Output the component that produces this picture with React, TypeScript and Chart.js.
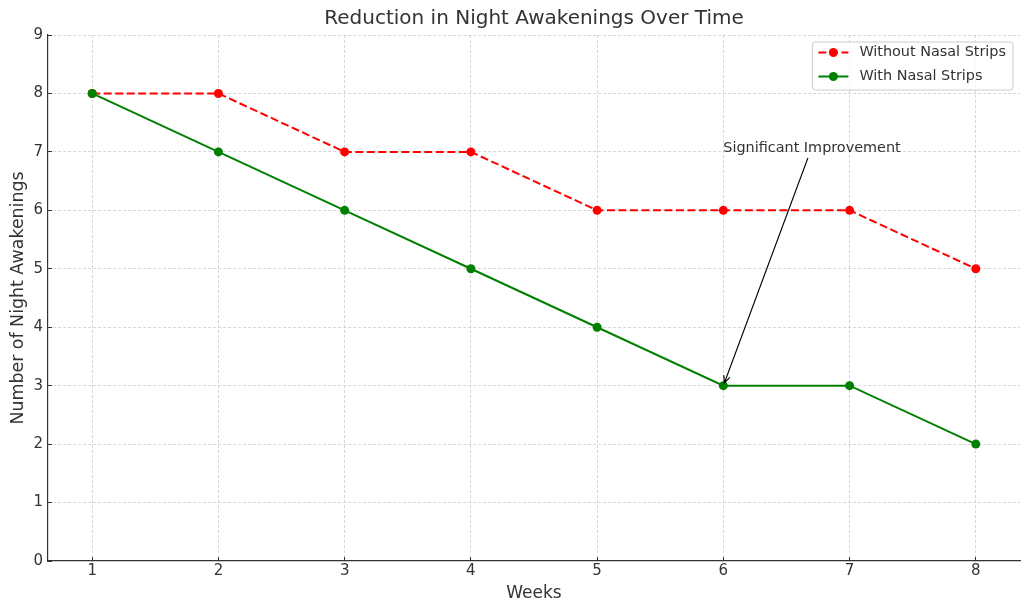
import React, { useEffect, useRef } from 'react';
import { Chart, registerables } from 'chart.js';

Chart.register(...registerables);

const weeks = [1, 2, 3, 4, 5, 6, 7, 8];
const withoutStrips = [8, 8, 7, 7, 6, 6, 6, 5];
const withStrips = [8, 7, 6, 5, 4, 3, 3, 2];
const chartTitle = 'Reduction in Night Awakenings Over Time';
const xTitle = 'Weeks';
const yTitle = 'Number of Night Awakenings';
const withoutLabel = 'Without Nasal Strips';
const withLabel = 'With Nasal Strips';
const annotationText = 'Significant Improvement';
const annotationPoint = { x: 6, y: 3 };
const annotationTextPos = { x: 6, y: 7 };

const FONT = "'DejaVu Sans', sans-serif";
const TEXT = '#333333';

const overlayPlugin = {
  id: 'overlay',
  afterDraw(chart: any) {
    const ctx = chart.ctx;
    const area = chart.chartArea;
    const xs = chart.scales.x;
    const ys = chart.scales.y;
    ctx.save();
    // Title
    ctx.font = `20px ${FONT}`;
    ctx.fillStyle = TEXT;
    ctx.textAlign = 'center';
    ctx.textBaseline = 'middle';
    ctx.fillText(chartTitle, (area.left + area.right) / 2, 19);

    // Annotation
    ctx.font = `14.4px ${FONT}`;
    ctx.textAlign = 'left';
    ctx.textBaseline = 'alphabetic';
    const tx = xs.getPixelForValue(annotationTextPos.x);
    const ty = ys.getPixelForValue(annotationTextPos.y);
    ctx.fillText(annotationText, tx, ty);
    const w = ctx.measureText(annotationText).width;
    const cx = tx + w / 2;
    const cy = ty - 5;
    const px = xs.getPixelForValue(annotationPoint.x);
    const py = ys.getPixelForValue(annotationPoint.y);
    const dx = px - cx;
    const dy = py - cy;
    const len = Math.hypot(dx, dy);
    const ux = dx / len;
    const uy = dy / len;
    const t0 = (ty + 6 - cy) / uy;
    const sx = cx + ux * t0;
    const sy = cy + uy * t0;
    const ex = px - ux * 3;
    const ey = py - uy * 3;
    ctx.strokeStyle = '#000000';
    ctx.lineWidth = 1.2;
    ctx.beginPath();
    ctx.moveTo(sx, sy);
    ctx.lineTo(ex, ey);
    const hl = 7;
    const hw = 3.2;
    ctx.moveTo(ex - ux * hl - uy * hw, ey - uy * hl + ux * hw);
    ctx.lineTo(ex, ey);
    ctx.lineTo(ex - ux * hl + uy * hw, ey - uy * hl - ux * hw);
    ctx.stroke();

    // Legend
    ctx.font = `14.4px ${FONT}`;
    const entries = [
      { label: withoutLabel, color: '#ff0000', dash: [8, 3.5] },
      { label: withLabel, color: '#008000', dash: [] as number[] },
    ];
    const maxW = Math.max(...entries.map((e) => ctx.measureText(e.label).width));
    const bw = 47 + maxW + 7;
    const bh = 48;
    const bx = area.right - 7 - bw;
    const by = area.top + 7;
    ctx.beginPath();
    ctx.roundRect(bx, by, bw, bh, 3);
    ctx.fillStyle = 'rgba(255,255,255,0.8)';
    ctx.fill();
    ctx.strokeStyle = '#cccccc';
    ctx.lineWidth = 1;
    ctx.stroke();
    entries.forEach((e, i) => {
      const ry = by + 10.5 + i * 24;
      ctx.strokeStyle = e.color;
      ctx.lineWidth = 2;
      ctx.setLineDash(e.dash);
      ctx.beginPath();
      ctx.moveTo(bx + 6, ry);
      ctx.lineTo(bx + 36, ry);
      ctx.stroke();
      ctx.setLineDash([]);
      ctx.fillStyle = e.color;
      ctx.beginPath();
      ctx.arc(bx + 21, ry, 4.5, 0, Math.PI * 2);
      ctx.fill();
      ctx.fillStyle = TEXT;
      ctx.textBaseline = 'middle';
      ctx.fillText(e.label, bx + 47, ry);
    });
    ctx.restore();
  },
};

export default function App() {
  const ref = useRef<HTMLCanvasElement>(null);
  useEffect(() => {
    document.body.style.margin = '0';
    const canvas = ref.current;
    if (!canvas) return;
    const gridColor = (c: any) => (c.tick && c.tick.value === 0 ? 'rgba(0,0,0,0)' : '#cccccc');
    const chart = new Chart(canvas, {
      type: 'line',
      data: {
        datasets: [
          {
            label: withoutLabel,
            data: weeks.map((w, i) => ({ x: w, y: withoutStrips[i] })),
            borderColor: '#ff0000',
            backgroundColor: '#ff0000',
            borderWidth: 2,
            borderDash: [8, 3.5],
            pointRadius: 4.5,
            pointBorderWidth: 0,
            pointBackgroundColor: '#ff0000',
            order: 1,
          },
          {
            label: withLabel,
            data: weeks.map((w, i) => ({ x: w, y: withStrips[i] })),
            borderColor: '#008000',
            backgroundColor: '#008000',
            borderWidth: 2,
            pointRadius: 4.5,
            pointBorderWidth: 0,
            pointBackgroundColor: '#008000',
            order: 0,
          },
        ],
      },
      options: {
        animation: false,
        responsive: false,
        maintainAspectRatio: false,
        layout: { padding: { top: 35, right: 10, left: 0, bottom: 0 } },
        plugins: {
          legend: { display: false },
          title: { display: false },
          tooltip: { enabled: false },
        },
        scales: {
          x: {
            type: 'linear',
            min: 0.65,
            max: 8.35,
            afterBuildTicks: (s: any) => {
              s.ticks = weeks.map((v) => ({ value: v }));
            },
            afterFit: (s: any) => {
              s.height = 53;
            },
            grid: {
              color: '#cccccc',
              lineWidth: 0.8,
              drawTicks: true,
              tickLength: -4,
              tickColor: '#333333',
              tickWidth: 1,
              tickBorderDash: [],
            },
            border: { display: true, color: '#333333', width: 1.2, dash: [3, 2] },
            ticks: {
              color: TEXT,
              font: { family: FONT, size: 15 },
              padding: 5,
              maxRotation: 0,
              callback: (v: any) => String(v),
            },
            title: {
              display: true,
              text: xTitle,
              color: TEXT,
              font: { family: FONT, size: 17 },
              padding: { top: 0, bottom: 10 },
            },
          },
          y: {
            type: 'linear',
            min: 0,
            max: 9,
            afterFit: (s: any) => {
              s.width = 48;
            },
            grid: {
              color: gridColor,
              lineWidth: 0.8,
              drawTicks: true,
              tickLength: -4,
              tickColor: '#333333',
              tickWidth: 1,
              tickBorderDash: [],
            },
            border: { display: true, color: '#333333', width: 1.2, dash: [3, 2] },
            ticks: {
              stepSize: 1,
              color: TEXT,
              font: { family: FONT, size: 15 },
              padding: 9,
            },
            title: {
              display: true,
              text: yTitle,
              color: TEXT,
              font: { family: FONT, size: 17.4 },
              padding: { top: 8, bottom: 0 },
            },
          },
        },
      },
      plugins: [overlayPlugin],
    } as any);
    return () => chart.destroy();
  }, []);
  return (
    <div style={{ width: 1030, height: 614 }}>
      <canvas ref={ref} width={1030} height={614} style={{ display: 'block' }} />
    </div>
  );
}
